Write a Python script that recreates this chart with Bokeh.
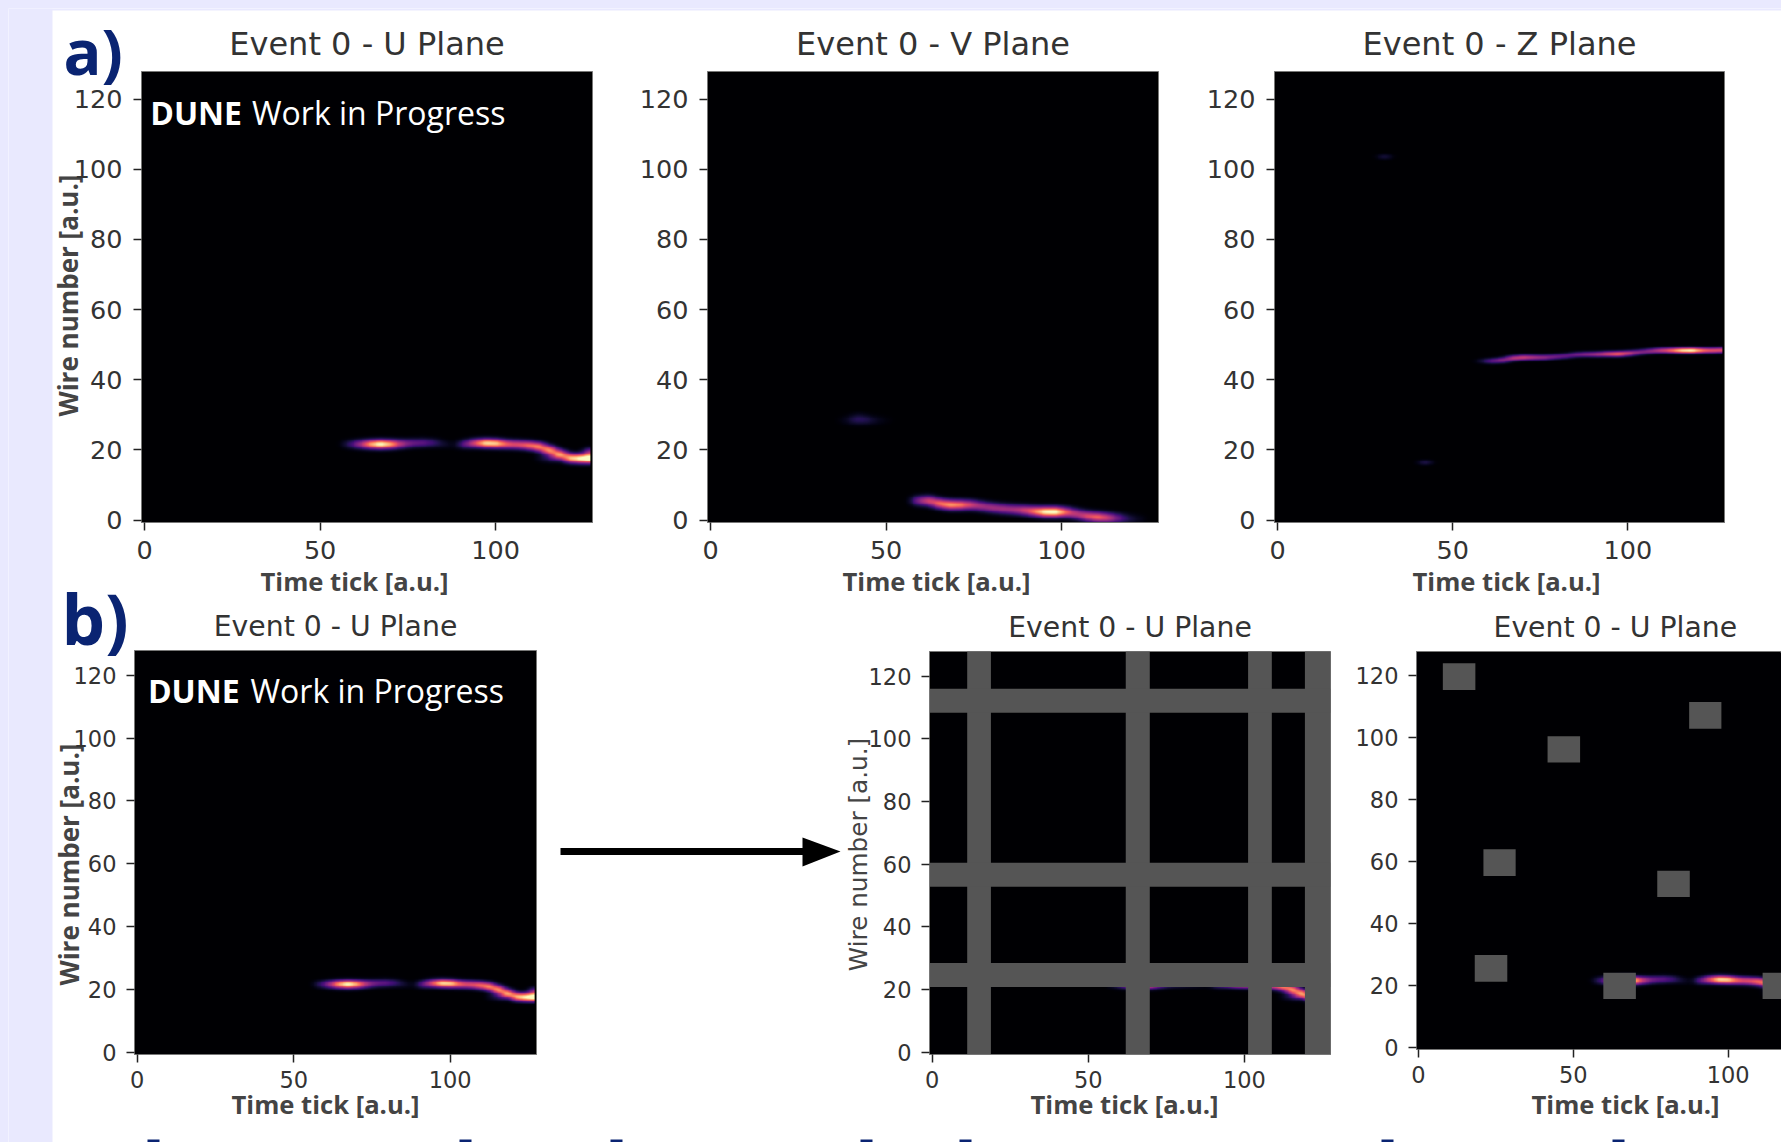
import numpy as np
from bokeh.embed import file_html
from bokeh.resources import INLINE
from bokeh.plotting import figure
from bokeh.layouts import column
from bokeh.models import FixedTicker, LinearColorMapper, Range1d, GlobalInlineStyleSheet
from bokeh.palettes import Magma256
from bokeh.core.properties import value

# ---- data: (time tick, wire, intensity) of the bright cells
U_T = [58, 61, 64, 67, 70, 73, 76, 79, 82, 85, 88, 91, 94, 97, 100, 103, 106, 109, 112, 115, 118, 121, 124, 127, 126.9, 116, 113]
U_W = [21.5, 21.5, 21.5, 21.5, 21.5, 21.6, 21.8, 21.9, 21.9, 21.5, 21.0, 21.5, 21.8, 21.8, 21.7, 21.5, 21.4, 21.2, 20.8, 19.8, 18.6, 17.5, 17.4, 17.4, 19.2, 17.6, 17.5]
U_V = [.15, .4, .78, 1.05, .8, .45, .3, .28, .2, .08, .02, .3, .6, .95, .9, .62, .58, .68, .8, .88, .9, .9, 1.0, 1.2, .5, .2, .08]

V_T = [38, 41, 42, 44, 47, 50, 59, 62, 65, 68, 71, 74, 77, 80, 83, 86, 89, 92, 95, 98, 101, 104, 107, 110, 113, 116, 119, 122]
V_W = [28.3, 28.4, 29.5, 28.4, 28.3, 28.3, 5.4, 5.4, 4.6, 4.2, 4.2, 4.2, 3.8, 3.4, 3.1, 2.9, 2.7, 2.4, 2.2, 2.2, 2.1, 1.6, 1.0, 0.7, 0.5, 0.4, 0.2, 0.1]
V_V = [.04, .14, .04, .14, .06, .02, .38, .6, .72, .8, .72, .55, .45, .45, .45, .45, .55, .72, 1.0, 1.05, .65, .5, .6, .7, .55, .3, .12, .05]

Z_T = [30.4, 42, 58.3, 61, 64, 67, 70, 73, 76, 79, 82, 85, 88, 91, 94, 97, 100, 103, 106, 109, 112, 115, 118, 121, 124, 127]
Z_W = [103.4, 16.3, 45.2, 45.2, 45.4, 46.0, 46.2, 46.2, 46.2, 46.4, 46.6, 47.0, 47.1, 47.1, 47.2, 47.2, 47.4, 47.7, 48.0, 48.2, 48.2, 48.2, 48.2, 48.2, 48.2, 48.3]
Z_V = [.13, .16, .1, .3, .42, .52, .55, .45, .4, .33, .3, .33, .38, .45, .58, .72, .55, .38, .4, .52, .65, .92, 1.02, .68, .6, .65]

GRID_X = [[11.2, 18.8], [62.0, 69.7], [101.2, 108.8], [119.4, 127.65]]
GRID_Y = [[20.9, 28.5], [52.8, 60.5], [108.3, 116.0]]
PATCH_X0 = [7.9, 87.4, 41.7, 21.0, 77.1, 18.2, 59.7, 111.1]
PATCH_X1 = [18.4, 97.8, 52.2, 31.4, 87.6, 28.7, 70.2, 121.6]
PATCH_Y0 = [115.4, 102.9, 92.0, 55.4, 48.6, 21.3, 15.7, 15.7]
PATCH_Y1 = [124.0, 111.5, 100.5, 64.0, 57.1, 29.9, 24.2, 24.2]

X_TICKS = [0, 50, 100]
Y_TICKS = [0, 20, 40, 60, 80, 100, 120]
TITLE_U, TITLE_V, TITLE_Z = "Event 0 - U Plane", "Event 0 - V Plane", "Event 0 - Z Plane"
XLAB, YLAB = "Time tick [a.u.]", "Wire number [a.u.]"

NAVY = "#0a2472"
LAV = "#e9e9fe"
GREY = "#555555"
INK = "#333333"
LAB = "#444444"
SANS = "DejaVu Sans"
BOLD = "Open Sans"


def raster(ts, ws, vs, sy=0.9, sx=1.6):
    """Smooth the read cells the way imshow's interpolation does."""
    gx = np.arange(-0.5, 127.0, 0.25)
    gy = np.arange(-0.5, 127.5, 0.25)
    xx, yy = np.meshgrid(gx, gy)
    out = np.zeros_like(xx)
    for t, w, v in zip(ts, ws, vs):
        out += v * np.exp(-((xx - t) / sx) ** 2 / 2 - ((yy - w) / sy) ** 2 / 2)
    return out / 1.34


mapper = LinearColorMapper(palette=list(Magma256), low=0, high=1)

# ---- page-sized backdrop: its data coordinates are page pixels
bg = figure(frame_width=1773, frame_height=1134, toolbar_location=None, output_backend="svg",
            x_range=Range1d(8, 1781), y_range=Range1d(1142, 8),
            x_axis_location=None, y_axis_location=None, frame_align=False,
            min_border_left=0, min_border_right=0, min_border_top=0, min_border_bottom=0,
            background_fill_color="white", border_fill_color="white")
bg.styles = {"position": "absolute", "left": "8px", "top": "8px"}
bg.grid.visible = False
bg.outline_line_color = None
bg.quad(left=[8, 8], right=[52, 1781], top=[8, 8], bottom=[1142, 10], fill_color=LAV, line_color=None)


def btext(x, y, s, size, font=SANS, style="normal", color=LAB, angle=0.0,
          align="center", baseline="middle"):
    bg.text(x=[x], y=[y], text=[s], text_font=value(font), text_font_size=f"{size}px",
            text_font_style=style, text_color=color, angle=angle,
            text_align=align, text_baseline=baseline)


btext(63, 50, "a)", 63, BOLD, "bold", NAVY, align="left", baseline="alphabetic")
btext(61, 617, "b)", 69, BOLD, "bold", NAVY, align="left", baseline="alphabetic")
for x in [354, 936, 1506]:
    btext(x, 581, XLAB, 25.6, BOLD, "bold")
for x in [325, 1124, 1625]:
    btext(x, 1104, XLAB, 25.6, BOLD, "bold")
btext(67, 295, YLAB, 26, BOLD, "bold", angle=np.pi / 2)
btext(68, 864, YLAB, 26, BOLD, "bold", angle=np.pi / 2)
btext(858, 854, YLAB, 24.7, SANS, "normal", angle=np.pi / 2)

# arrow between the panels of row b
bg.line(x=[560, 803], y=[851, 851], line_color="black", line_width=7)
bg.patch(x=[802, 840, 802], y=[837, 851, 866], fill_color="black", line_color=None)

# clipped tops of the next heading
STUBS = [147, 459, 610, 860, 959, 1381, 1612]
bg.quad(left=STUBS, right=[s + 12 for s in STUBS], top=[1139] * 7, bottom=[1142] * 7,
        fill_color=NAVY, line_color=None)


def panel(left, top, fw, fh, xr, yr, title, tick_px, title_px, data, sy, title_align="center",
          title_offset=0, standoff=18, x_standoff=10, y_standoff=11):
    ml, mt, mb = 100, 60, 45
    mr = 0 if left + fw >= 1781 else 4
    p = figure(frame_width=fw, frame_height=fh, toolbar_location=None, output_backend="svg",
               x_range=Range1d(*xr), y_range=Range1d(*yr), frame_align=False,
               min_border_left=ml, min_border_right=mr, min_border_top=mt, min_border_bottom=mb,
               background_fill_color="black", border_fill_alpha=0.0, border_fill_color=None,
               outline_line_color="#777777", title=title)
    p.styles = {"position": "absolute", "left": f"{left - ml}px", "top": f"{top - mt}px"}
    p.grid.visible = False
    p.title.align = title_align
    p.title.offset = title_offset
    p.title.text_font = SANS
    p.title.text_font_style = "normal"
    p.title.text_font_size = f"{title_px}px"
    p.title.text_color = INK
    p.title.standoff = standoff
    p.xaxis.ticker = FixedTicker(ticks=X_TICKS)
    p.yaxis.ticker = FixedTicker(ticks=Y_TICKS)
    for ax in (p.xaxis[0], p.yaxis[0]):
        ax.major_tick_in = 0
        ax.major_tick_out = 8
        ax.minor_tick_in = 0
        ax.minor_tick_out = 0
        ax.major_tick_line_color = "#222222"
        ax.major_tick_line_width = 1.5
        ax.axis_line_color = "#777777"
        ax.major_label_text_font = SANS
        ax.major_label_text_font_size = f"{tick_px}px"
        ax.major_label_text_color = INK
    p.xaxis[0].major_label_standoff = x_standoff
    p.yaxis[0].major_label_standoff = y_standoff
    p.image(image=[raster(*data, sy=sy)], x=-0.5, y=-0.5, dw=127.5, dh=128, color_mapper=mapper)
    return p


def dune(p, x0, x1, y, px):
    p.text(x=[x0], y=[y], text=["DUNE"], text_font=value(BOLD), text_font_style="bold",
           text_font_size=f"{px}px", text_color="white", text_baseline="alphabetic")
    p.text(x=[x1], y=[y], text=["Work in Progress"], text_font=value(BOLD), text_font_style="normal",
           text_font_size=f"{px}px", text_color="white", text_baseline="alphabetic")


XR = (-0.88, 127.6)
YR = (-0.66, 127.85)
U, V, Z = (U_T, U_W, U_V), (V_T, V_W, V_V), (Z_T, Z_W, Z_V)
ROW_B = dict(standoff=16, x_standoff=8, y_standoff=10)

p1 = panel(141, 71, 451, 451, XR, YR, TITLE_U, 25.5, 32, U, 0.9)
dune(p1, 1.6, 30.6, 116.2, 32)
p2 = panel(707, 71, 451, 451, XR, YR, TITLE_V, 25.5, 32, V, 1.0)
p3 = panel(1274, 71, 450, 451, XR, YR, TITLE_Z, 25.5, 32, Z, 0.55)

p4 = panel(134, 650, 402, 404, XR, YR, TITLE_U, 22.5, 28.3, U, 0.9, **ROW_B)
dune(p4, 3.4, 36.2, 115.1, 32)
p5 = panel(929, 651, 401, 403, XR, YR, TITLE_U, 22.5, 28.3, U, 0.9, **ROW_B)
p5.quad(left=[g[0] for g in GRID_X], right=[g[1] for g in GRID_X], bottom=-0.66, top=127.85,
        fill_color=GREY, line_color=None)
p5.quad(left=-0.88, right=127.6, bottom=[g[0] for g in GRID_Y], top=[g[1] for g in GRID_Y],
        fill_color=GREY, line_color=None)
p6 = panel(1416, 651, 365, 398, (-0.6, 117.2), (-0.55, 127.8), TITLE_U, 22.5, 28.3, U, 0.9,
           title_align="left", title_offset=77, **ROW_B)
p6.quad(left=PATCH_X0, right=PATCH_X1, bottom=PATCH_Y0, top=PATCH_Y1, fill_color=GREY, line_color=None)

page = column(bg, p1, p2, p3, p4, p5, p6, width=1773, height=1134, spacing=0,
              stylesheets=[GlobalInlineStyleSheet(css=f"html,body{{background:{LAV};overflow:hidden}}")])

open("out.html", "w").write(file_html(page, INLINE))
